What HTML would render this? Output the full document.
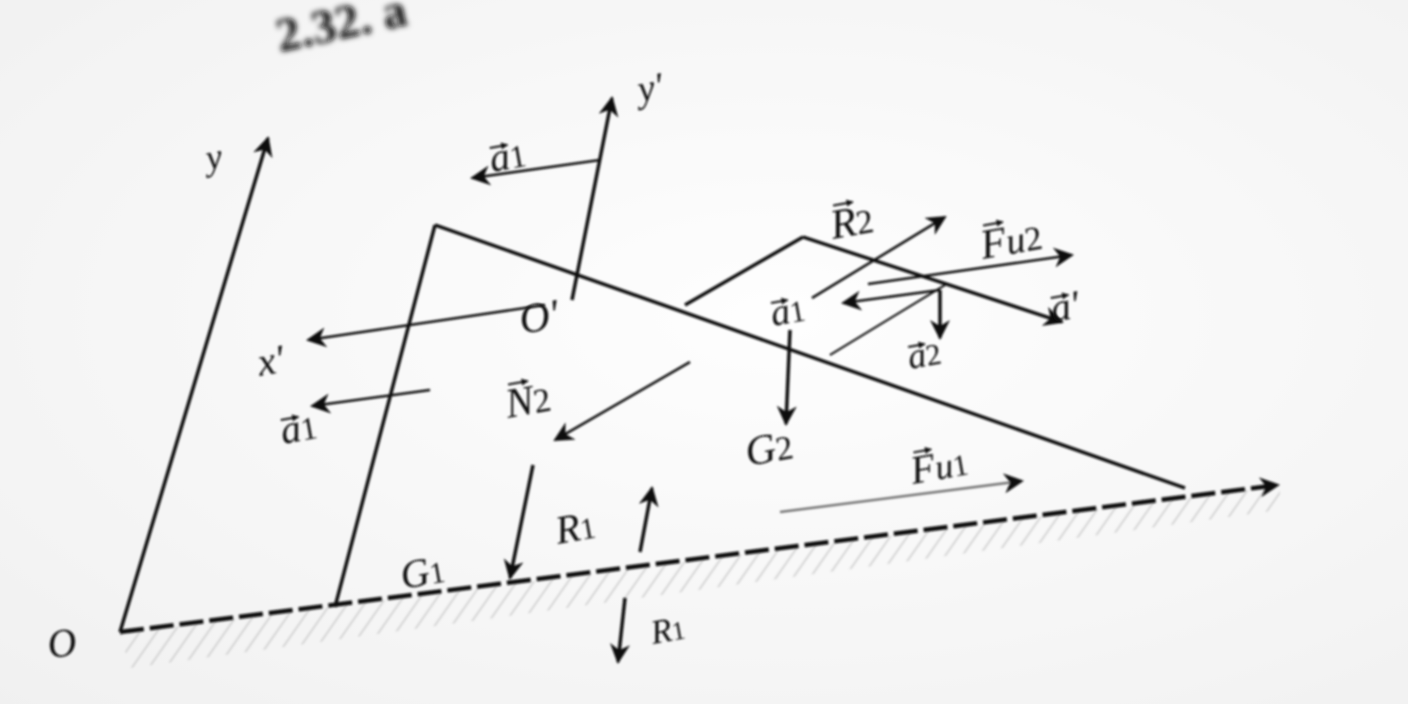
<!DOCTYPE html>
<html><head><meta charset="utf-8"><style>
html,body{margin:0;padding:0;width:1408px;height:704px;overflow:hidden;background:#fafafa}
svg{display:block}
text{font-family:"Liberation Serif",serif;font-style:italic;fill:#111}
.s{font-style:normal}
.v{stroke:#111;stroke-width:2;fill:none}
</style></head><body>
<svg width="1408" height="704" viewBox="0 0 1408 704">
<defs>
<radialGradient id="bg" cx="0.55" cy="0.45" r="0.8">
<stop offset="0" stop-color="#fefefe"/><stop offset="1" stop-color="#f0f0f0"/></radialGradient>
<marker id="ab" viewBox="0 0 10 10" refX="9" refY="5" markerWidth="30" markerHeight="20" markerUnits="userSpaceOnUse" orient="auto">
<path d="M0,0 L10,5 L0,10 L3,5 Z" fill="#111"/></marker>
<marker id="sm" viewBox="0 0 10 10" refX="9" refY="5" markerWidth="8" markerHeight="7" markerUnits="userSpaceOnUse" orient="auto">
<path d="M0,0 L10,5 L0,10 Z" fill="#111"/></marker>
<pattern id="hatch" width="14" height="14" patternUnits="userSpaceOnUse" patternTransform="rotate(35)">
<line x1="0" y1="0" x2="0" y2="14" stroke="#c8c8c8" stroke-width="4"/></pattern>
<filter id="bl"><feGaussianBlur stdDeviation="1.1"/></filter>
<filter id="bl3"><feGaussianBlur stdDeviation="3"/></filter>
</defs>
<rect width="1408" height="704" fill="url(#bg)"/>
<g filter="url(#bl3)"><text x="280" y="52" style="font-size:48px" class="s" font-weight="bold" fill="#777" transform="rotate(-12 280 52)">2.32.  a</text></g>
<polygon points="120,634 1280,486 1280,510 130,668" fill="url(#hatch)" opacity="0.7" filter="url(#bl)"/>
<g filter="url(#bl)" stroke="#111" fill="none" stroke-width="3.5">
<line x1="120" y1="632" x2="1278" y2="485" stroke-dasharray="24 6" stroke-width="4.5" marker-end="url(#ab)"/>
<line x1="120" y1="632" x2="268" y2="138" marker-end="url(#ab)"/>
<line x1="335" y1="607" x2="435" y2="225"/>
<line x1="435" y1="225" x2="1185" y2="488"/>
<line x1="685" y1="305" x2="803" y2="237"/>
<line x1="803" y1="237" x2="1062" y2="322" marker-end="url(#ab)"/>
<line x1="830" y1="355" x2="945" y2="285" stroke-width="2"/>
<line x1="572" y1="300" x2="612" y2="98" marker-end="url(#ab)"/>
<line x1="545" y1="305" x2="308" y2="340" stroke-width="2.5" marker-end="url(#ab)"/>
<line x1="600" y1="160" x2="472" y2="178" stroke-width="2.5" marker-end="url(#ab)"/>
<line x1="430" y1="390" x2="312" y2="406" stroke-width="2.5" marker-end="url(#ab)"/>
<line x1="690" y1="362" x2="555" y2="440" stroke-width="2.5" marker-end="url(#ab)"/>
<line x1="790" y1="330" x2="786" y2="424" marker-end="url(#ab)"/>
<line x1="533" y1="465" x2="510" y2="578" marker-end="url(#ab)"/>
<line x1="640" y1="552" x2="652" y2="488" marker-end="url(#ab)"/>
<line x1="625" y1="598" x2="618" y2="662" marker-end="url(#ab)"/>
<line x1="812" y1="298" x2="945" y2="217" stroke-width="2.5" marker-end="url(#ab)"/>
<line x1="868" y1="284" x2="1072" y2="255" stroke-width="2.5" marker-end="url(#ab)"/>
<line x1="940" y1="290" x2="843" y2="303" stroke-width="2.5" marker-end="url(#ab)"/>
<line x1="940" y1="290" x2="940" y2="338" marker-end="url(#ab)"/>
<line x1="780" y1="512" x2="1022" y2="481" stroke-width="2.5" stroke="#777" marker-end="url(#ab)"/>
</g>
<g filter="url(#bl)">
<text x="208" y="170" style="font-size:36px" transform="rotate(-10 208 170)">y</text>
<text x="640" y="102" style="font-size:38px" transform="rotate(-10 640 102)">y′</text>
<g transform="translate(492,172) rotate(-10)"><text style="font-size:40px">a<tspan class="s" style="font-size:32px">1</tspan></text><line class="v" x1="2" y1="-24" x2="20" y2="-24" marker-end="url(#sm)"/></g>
<text x="522" y="334" style="font-size:42px" transform="rotate(-10 522 334)">O′</text>
<text x="260" y="376" style="font-size:40px" transform="rotate(-10 260 376)">x′</text>
<g transform="translate(283,444) rotate(-10)"><text style="font-size:40px">a<tspan class="s" style="font-size:32px">1</tspan></text><line class="v" x1="2" y1="-24" x2="20" y2="-24" marker-end="url(#sm)"/></g>
<g transform="translate(508,418) rotate(-10)"><text style="font-size:42px">N<tspan class="s" style="font-size:34px">2</tspan></text><line class="v" x1="6" y1="-33" x2="26" y2="-33" marker-end="url(#sm)"/></g>
<text x="748" y="466" style="font-size:42px" fill="#444" transform="rotate(-10 748 466)">G<tspan class="s" style="font-size:34px">2</tspan></text>
<text x="403" y="589" style="font-size:40px" fill="#444" transform="rotate(-10 403 589)">G<tspan class="s" style="font-size:30px">1</tspan></text>
<text x="558" y="544" style="font-size:40px" fill="#444" transform="rotate(-10 558 544)">R<tspan class="s" style="font-size:30px">1</tspan></text>
<text x="653" y="644" style="font-size:34px" fill="#888" transform="rotate(-10 653 644)">R<tspan class="s" style="font-size:26px">1</tspan></text>
<text x="50" y="659" style="font-size:40px" fill="#444" transform="rotate(-10 50 659)">O</text>
<g transform="translate(833,239) rotate(-10)"><text style="font-size:42px">R<tspan class="s" style="font-size:34px">2</tspan></text><line class="v" x1="6" y1="-33" x2="26" y2="-33" marker-end="url(#sm)"/></g>
<g transform="translate(983,259) rotate(-10)"><text style="font-size:42px">F<tspan style="font-size:38px">u</tspan><tspan class="s" style="font-size:34px">2</tspan></text><line class="v" x1="6" y1="-33" x2="26" y2="-33" marker-end="url(#sm)"/></g>
<g transform="translate(773,326) rotate(-10)"><text style="font-size:38px">a<tspan class="s" style="font-size:30px">1</tspan></text><line class="v" x1="2" y1="-23" x2="19" y2="-23" marker-end="url(#sm)"/></g>
<g transform="translate(910,369) rotate(-10)"><text style="font-size:36px" fill="#555">a<tspan class="s" style="font-size:30px">2</tspan></text><line class="v" x1="2" y1="-22" x2="19" y2="-22" marker-end="url(#sm)"/></g>
<g transform="translate(1053,322) rotate(-10)"><text style="font-size:40px">a′</text><line class="v" x1="2" y1="-24" x2="20" y2="-24" marker-end="url(#sm)"/></g>
<g transform="translate(913,484) rotate(-10)"><text style="font-size:40px" fill="#777">F<tspan style="font-size:36px">u</tspan><tspan class="s" style="font-size:30px">1</tspan></text><line class="v" x1="6" y1="-31" x2="24" y2="-31" stroke="#777" marker-end="url(#sm)"/></g>
</g>
</svg>
</body></html>
